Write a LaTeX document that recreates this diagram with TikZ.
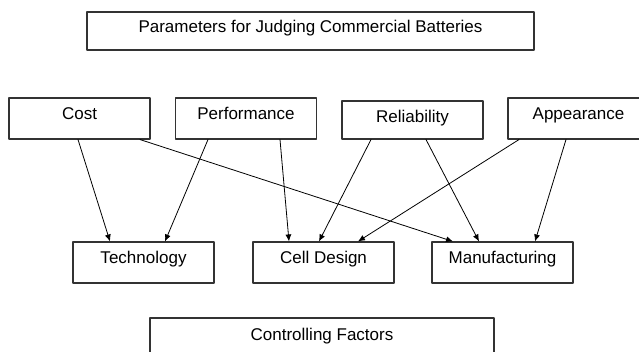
\documentclass[tikz,border=0pt]{standalone}
\usepackage{fontspec}
\setmainfont{Liberation Sans}
\usetikzlibrary{arrows.meta,calc}
\definecolor{boxgray}{rgb}{0.2,0.2,0.2}

\begin{document}
\begin{tikzpicture}[x=1pt,y=-1pt,line cap=round,line join=round,
  box/.style={draw=boxgray,line width=1.1pt,rectangle,inner sep=0pt,minimum width=141pt,
    text height=22pt,text depth=19pt,font=\fontsize{17}{20}\selectfont},
  link/.style={line width=0.8pt,-{Latex[length=7pt,width=6pt]}}]
\clip (0,0) rectangle (639,352);
\node[box,minimum width=447pt,text height=21pt,text depth=17pt] (params) at (310.5,31) {Parameters for Judging Commercial Batteries};
\node[box] (cost) at (79.5,118.5) {Cost};
\node[box] (perf) at (246,118.5) {Performance};
\node[box,text height=22pt,text depth=16pt] (rel) at (412.5,120) {Reliability};
\node[box] (app) at (578.5,118.5) {Appearance};
\node[box] (tech) at (143.5,262.5) {Technology};
\node[box] (cell) at (323.5,262.5) {Cell Design};
\node[box] (manu) at (502.5,262.5) {Manufacturing};
\node[box,minimum width=344pt] (ctrl) at (322,338.5) {Controlling Factors};
\draw[link] ([xshift=-1.5pt]cost.south) -- ([xshift=-33.5pt]tech.north);
\draw[link] ([xshift=60.5pt]cost.south) -- ([xshift=-49.5pt]manu.north);
\draw[link] ([xshift=-38pt]perf.south) -- ([xshift=21.5pt]tech.north);
\draw[link] ([xshift=34pt]perf.south) -- ([xshift=-34.5pt]cell.north);
\draw[link] ([xshift=-41.5pt]rel.south) -- ([xshift=-4.5pt]cell.north);
\draw[link] ([xshift=13.5pt]rel.south) -- ([xshift=-23.5pt]manu.north);
\draw[link] ([xshift=-59.5pt]app.south) -- ([xshift=34.5pt]cell.north);
\draw[link] ([xshift=-12.5pt]app.south) -- ([xshift=32.5pt]manu.north);
\end{tikzpicture}
\end{document}
